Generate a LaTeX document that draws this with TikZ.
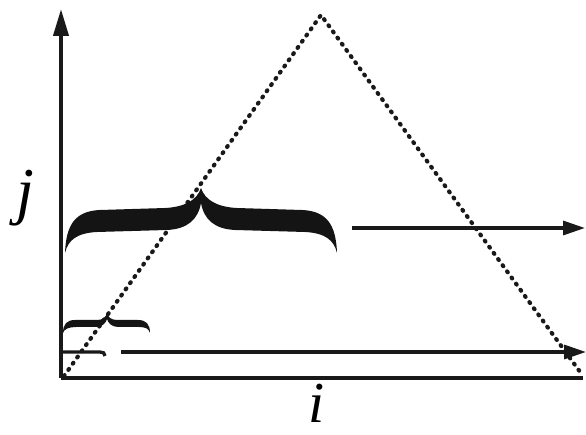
\documentclass[tikz,border=0pt]{standalone}
\usepackage{fontspec}
\setmainfont{Liberation Serif}
\usetikzlibrary{arrows.meta}
\begin{document}
\begin{tikzpicture}[x=1pt,y=-1pt,
  axisline/.style={line width=4pt, draw=black!90},
  arrline/.style={line width=3.3pt, draw=black!90, -{Triangle[length=22pt,width=14pt]}},
  dotline/.style={line width=4.2pt, line cap=round, dash pattern=on 1pt off 6.6pt, draw=black!90},
  bracefill/.style={fill=black!92, draw=none},
  lbl/.style={inner sep=0pt, anchor=base, font=\itshape}]
\useasboundingbox (0,0) rectangle (586,435);
% coordinates
\coordinate (O) at (61,378);
\coordinate (Ytop) at (61,9);
\coordinate (Xend) at (583,378);
\coordinate (TL) at (64,376);
\coordinate (TA) at (321,15);
\coordinate (TR) at (583,376);
\coordinate (A1s) at (352,228);
\coordinate (A1e) at (585,228);
\coordinate (A2s) at (121,352);
\coordinate (A2e) at (586,352);
\coordinate (S0) at (61,352);
% triangle
\draw[dotline] (TL) -- (TA) -- (TR);
% axes
\draw[axisline, -{Triangle[length=27pt,width=15pt]}] (O) -- (Ytop);
\draw[axisline] (O) -- (Xend);
% big brace
\fill[bracefill] (65,253) .. controls (66,225) and (75,211) .. (100,210) -- (165,208)
  .. controls (185,207) and (197,200) .. (201,188)
  .. controls (205,200) and (217,207) .. (237,208) -- (302,210)
  .. controls (327,211) and (336,225) .. (337,253)
  .. controls (334,240) and (325,233) .. (305,232) -- (235,230)
  .. controls (215,229) and (204,220) .. (201,203)
  .. controls (198,220) and (187,229) .. (167,230) -- (97,232)
  .. controls (77,233) and (68,240) .. (65,253) -- cycle;
% small brace
\fill[bracefill] (63,333) .. controls (63,324) and (67,320) .. (75,320) -- (97,320)
  .. controls (103,320) and (106,317) .. (107,313)
  .. controls (108,317) and (111,320) .. (117,320) -- (138,320)
  .. controls (146,320) and (150,324) .. (150,333)
  .. controls (149,329) and (146,327) .. (139,327) -- (118,327)
  .. controls (112,327) and (108,323) .. (107,319)
  .. controls (106,323) and (102,327) .. (96,327) -- (76,327)
  .. controls (69,327) and (64,329) .. (63,333) -- cycle;
% arrows
\draw[arrline] (A1s) -- (A1e);
\draw[arrline] (A2s) -- (A2e);
\draw[line width=3.3pt, draw=black!90] (S0) -- (100,352) .. controls (103,352) and (105,353) .. (105,356);
% labels
\node[lbl, font=\itshape\fontsize{64}{64}\selectfont] (j) at (25,213) {j};
\node[lbl, font=\itshape\fontsize{58}{58}\selectfont] (i) at (317,422) {i};
\end{tikzpicture}
\end{document}
